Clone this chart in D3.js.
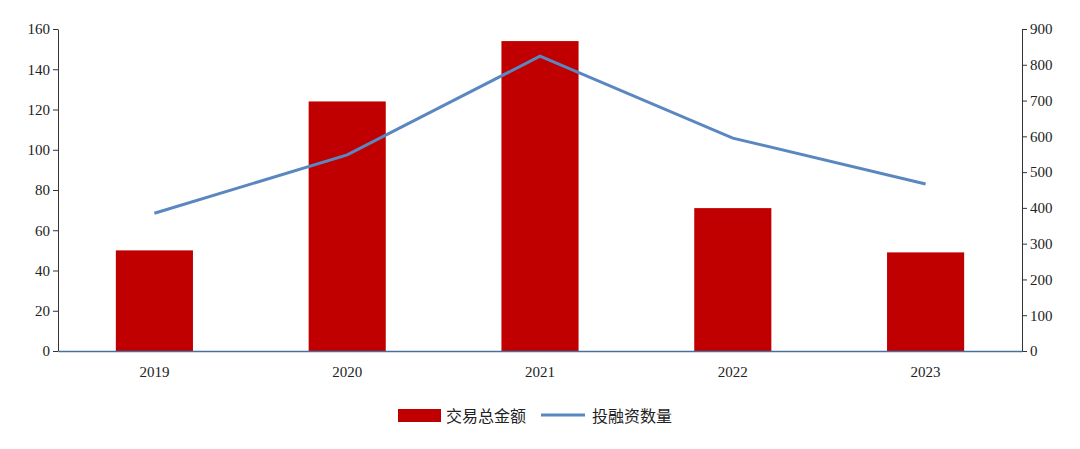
<!DOCTYPE html>
<html><head><meta charset="utf-8">
<script src="https://cdn.jsdelivr.net/npm/d3@7"></script>
<style>body{margin:0;background:#fff}</style></head>
<body><svg id="c" width="1080" height="449"></svg>
<script>
const years = ["2019","2020","2021","2022","2023"];
const amount = [50, 124, 154, 71, 49];
const counts = [385, 548, 824, 595, 467];
const leftTicks = [0,20,40,60,80,100,120,140,160];
const rightTicks = [0,100,200,300,400,500,600,700,800,900];
const names = ["交易总金额","投融资数量"];

const svg = d3.select("#c");
const L=58,R=1022,T=29,B=351;
const x = d3.scaleBand().domain(years).range([L,R]).paddingInner(0.6).paddingOuter(0.3);
const yl = d3.scaleLinear().domain([0,160]).range([B,T]);
const yr = d3.scaleLinear().domain([0,900]).range([B,T]);
const serif = "'Liberation Serif','Times New Roman',serif";

svg.selectAll("rect.bar").data(amount).join("rect")
  .attr("x",(d,i)=>x(years[i])).attr("width",x.bandwidth())
  .attr("y",d=>yl(d)).attr("height",d=>B-yl(d)).attr("fill","#c00000");

const gl = svg.append("g").attr("transform",`translate(${L},0)`)
  .call(d3.axisLeft(yl).tickValues(leftTicks).tickSize(5).tickSizeOuter(0));
const gr = svg.append("g").attr("transform",`translate(${R},0)`)
  .call(d3.axisRight(yr).tickValues(rightTicks).tickSize(5).tickSizeOuter(0));
[gl,gr].forEach(g=>{g.selectAll("text").attr("font-family",serif).attr("font-size",15).attr("fill","#222");
  g.selectAll("line,path").attr("stroke","#333");});
const gx = svg.append("g").attr("transform",`translate(0,${B})`)
  .call(d3.axisBottom(x).tickSize(0).tickPadding(15));
gx.select("path").attr("stroke","#4a6f9c").attr("stroke-width",1.5);
gx.selectAll("text").attr("font-family",serif).attr("font-size",15).attr("fill","#222");

const line = d3.line().x((d,i)=>x(years[i])+x.bandwidth()/2).y(d=>yr(d));
svg.append("path").datum(counts).attr("d",line).attr("fill","none")
  .attr("stroke","#5b87c0").attr("stroke-width",3);

const lg = svg.append("g").attr("font-family","'Noto Sans CJK SC',sans-serif").attr("font-size",16).attr("fill","#222");
lg.append("rect").attr("x",398).attr("y",409).attr("width",43).attr("height",13).attr("fill","#c00000");
lg.append("text").attr("x",446).attr("y",422).text(names[0]);
lg.append("line").attr("x1",541).attr("x2",585).attr("y1",415).attr("y2",415).attr("stroke","#5b87c0").attr("stroke-width",3);
lg.append("text").attr("x",592).attr("y",422).text(names[1]);
</script></body></html>
